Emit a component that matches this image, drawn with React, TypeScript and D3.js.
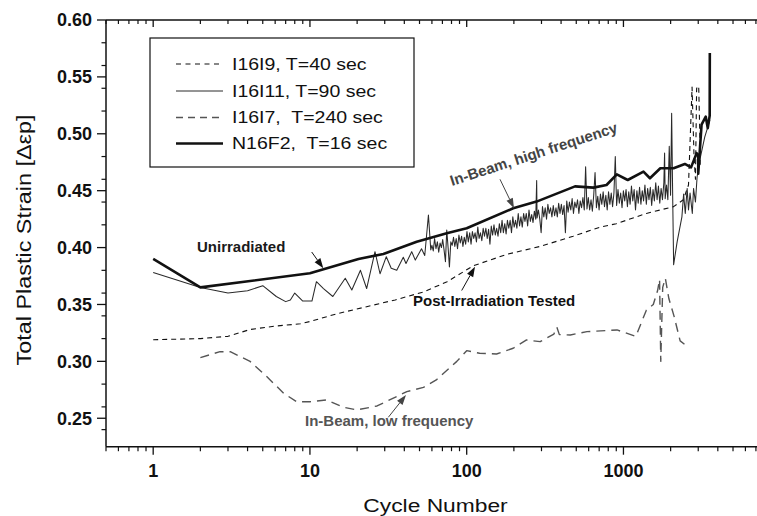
import React from 'react';
import * as d3 from 'd3';

type P = [number, number];

const W = 757;
const H = 516;
const FONT = "'Liberation Sans', Arial, Helvetica, sans-serif";

const xMajorTicks = [1, 10, 100, 1000];
const xMajorLabels = ['1', '10', '100', '1000'];
const yMajorTicks = [0.25, 0.3, 0.35, 0.4, 0.45, 0.5, 0.55, 0.6];
const yMajorLabels = ['0.25', '0.30', '0.35', '0.40', '0.45', '0.50', '0.55', '0.60'];

const legendLabels = ['I16I9, T=40 sec', 'I16I11, T=90 sec', 'I16I7,  T=240 sec', 'N16F2,  T=16 sec'];

// Post-irradiation tested, T=40 sec (short dashes)
const seriesI16I9: P[] = [
  [1, 0.319], [2, 0.320], [3, 0.322], [4.15, 0.328], [6, 0.331], [8.7, 0.333], [10, 0.335],
  [15, 0.342], [23, 0.348], [35, 0.354], [53, 0.361], [75, 0.370], [110, 0.384], [180, 0.394],
  [294, 0.401], [478, 0.410], [710, 0.418], [900, 0.421], [1400, 0.430], [2090, 0.436],
  [2410, 0.442], [2600, 0.455], [2740, 0.541], [2820, 0.480], [2880, 0.460], [2930, 0.540],
  [3020, 0.542], [3070, 0.500], [3090, 0.470],
];

// In-beam high frequency, T=90 sec (thin solid, noisy)
const seriesI16I11: P[] = [
  [1, 0.378], [2, 0.365], [3, 0.360], [4, 0.362], [5, 0.3665], [6.1, 0.357], [7, 0.3525],
  [7.5, 0.354], [8, 0.360], [9, 0.353], [10.3, 0.353], [11, 0.370], [12.2, 0.364], [14, 0.357],
  [16.8, 0.373], [18.5, 0.3627], [21, 0.380], [23, 0.364], [26, 0.3964], [28, 0.377],
  [30.7, 0.392], [33, 0.3818], [35.8, 0.380], [39.4, 0.3915], [41, 0.386], [44.6, 0.3964],
  [47, 0.389], [51.5, 0.399], [54, 0.393], [57, 0.4286], [59, 0.398],
  [60, 0.402], [61.2, 0.397], [62.4, 0.408], [63.7, 0.399], [65, 0.405], [66.3, 0.396],
  [67.6, 0.404], [69, 0.400], [70.3, 0.407], [71.7, 0.398], [73.2, 0.3876], [74.6, 0.4155],
  [76.1, 0.400], [77.6, 0.383], [79.2, 0.405], [80.8, 0.402], [82.4, 0.409], [84, 0.401],
  [85.7, 0.408], [87.4, 0.399], [89.2, 0.411], [91, 0.404], [92.8, 0.410], [94.6, 0.401],
  [96.5, 0.409], [98.5, 0.403], [100.4, 0.414], [102.4, 0.405], [104.5, 0.413], [106.6, 0.403],
  [108.7, 0.414], [110.9, 0.408], [113.1, 0.413], [115.4, 0.405], [117.7, 0.418], [120, 0.408],
  [122.4, 0.413], [124.9, 0.406], [127.4, 0.417], [129.9, 0.410], [132.5, 0.417], [135.2, 0.408],
  [137.9, 0.416], [140.7, 0.403], [143.5, 0.419], [146.3, 0.411], [149.3, 0.420], [152.2, 0.411],
  [155.3, 0.417], [158.4, 0.410], [161.6, 0.421], [164.8, 0.413], [168.1, 0.424], [171.4, 0.413],
  [174.9, 0.421], [178.4, 0.412], [181.9, 0.424], [185.6, 0.417], [189.3, 0.424], [193.1, 0.413],
  [196.9, 0.427], [200.9, 0.418], [204.9, 0.424], [209, 0.417], [213.2, 0.430], [217.4, 0.419],
  [221.8, 0.427], [226.2, 0.418], [230.7, 0.430], [235.3, 0.423], [240, 0.430], [244.8, 0.419],
  [249.7, 0.433], [254.7, 0.423], [259.8, 0.429], [265, 0.422], [270.3, 0.432], [275.7, 0.425],
  [279.5, 0.459], [281.2, 0.426], [286.9, 0.433], [292.6, 0.425], [298.5, 0.413], [304.4, 0.436],
  [310.5, 0.427], [316.7, 0.435], [323.1, 0.425], [329.5, 0.438], [336.1, 0.430], [342.8, 0.435],
  [349.7, 0.427], [356.7, 0.437], [363.8, 0.428], [371.1, 0.435], [378.5, 0.427], [386.1, 0.439],
  [393.8, 0.430], [401.7, 0.438], [409.7, 0.429], [417.9, 0.437], [426.3, 0.413], [434.8, 0.441],
  [443.5, 0.431], [452.4, 0.440], [461.4, 0.433], [470.6, 0.443], [480, 0.430], [489.6, 0.440],
  [499.4, 0.435], [509.4, 0.442], [519.6, 0.430], [530, 0.441], [540.6, 0.435], [551.4, 0.444],
  [562.4, 0.433], [573.7, 0.471], [585.2, 0.434], [596.9, 0.444], [608.8, 0.433], [621, 0.442],
  [633.4, 0.432], [646.1, 0.446], [659, 0.466], [672.2, 0.435], [685.6, 0.445], [699.3, 0.433],
  [713.3, 0.447], [727.6, 0.438], [742.2, 0.449], [757, 0.436], [772.1, 0.446], [787.6, 0.433],
  [803.3, 0.449], [819.4, 0.438], [835.8, 0.448], [852.5, 0.436], [869.6, 0.448], [887, 0.480],
  [904.7, 0.437], [922.8, 0.451], [941.3, 0.439], [960.1, 0.448], [979.3, 0.435], [998.9, 0.450],
  [1019, 0.441], [1039, 0.451], [1060, 0.436], [1081, 0.449], [1103, 0.438], [1125, 0.454],
  [1147, 0.441], [1170, 0.451], [1194, 0.433], [1218, 0.450], [1242, 0.439], [1267, 0.453],
  [1292, 0.438], [1318, 0.450], [1344, 0.441], [1371, 0.455], [1399, 0.438], [1427, 0.452],
  [1455, 0.442], [1484, 0.453], [1514, 0.437], [1544, 0.451], [1575, 0.441], [1607, 0.457],
  [1639, 0.442], [1672, 0.454], [1705, 0.439], [1739, 0.452], [1774, 0.442], [1810, 0.457],
  [1830, 0.483], [1846, 0.443], [1883, 0.455], [1920, 0.442], [1960, 0.489], [1998, 0.446],
  [2030, 0.518], [2060, 0.447], [2090, 0.385], [2200, 0.405], [2360, 0.427], [2420, 0.447],
  [2480, 0.430], [2550, 0.452], [2600, 0.433], [2660, 0.448], [2750, 0.430], [2800, 0.452],
  [2880, 0.440], [2950, 0.462], [3070, 0.477], [3300, 0.497], [3560, 0.512],
];

// In-beam low frequency, T=240 sec (long dashes, gray)
const seriesI16I7: P[] = [
  [2, 0.3033], [2.67, 0.3085], [3.1, 0.3085], [4.15, 0.300], [5.3, 0.2866], [6.8, 0.272],
  [8.2, 0.2646], [10, 0.2645], [12.8, 0.2661], [16.3, 0.2597], [19.9, 0.2573], [26.8, 0.2608],
  [41.5, 0.2734], [53, 0.2772], [64, 0.2837], [86.5, 0.300], [100, 0.3094], [121, 0.3071],
  [155, 0.3065], [198, 0.3115], [241, 0.3188], [294, 0.3173], [360, 0.3240], [376, 0.3300],
  [390, 0.3235], [458, 0.3232], [585, 0.3261], [910, 0.3276], [1200, 0.322], [1400, 0.345],
  [1550, 0.350], [1650, 0.362], [1700, 0.372], [1730, 0.300], [1780, 0.365], [1850, 0.373],
  [1950, 0.355], [2100, 0.340], [2300, 0.318], [2450, 0.315],
];

// Unirradiated, T=16 sec (thick solid)
const seriesN16F2: P[] = [
  [1, 0.390], [2, 0.365], [10, 0.3774], [20.4, 0.390], [29.4, 0.3944], [48, 0.4052],
  [74.6, 0.4126], [100, 0.417], [198, 0.4345], [279, 0.4404], [491, 0.4538], [643, 0.4527],
  [780, 0.455], [907, 0.4644], [1065, 0.4594], [1342, 0.4667], [1476, 0.4609], [1719, 0.4697],
  [2089, 0.4697], [2464, 0.4735], [2700, 0.4705], [2930, 0.483], [3000, 0.480], [3000, 0.465],
  [3150, 0.508], [3350, 0.515], [3450, 0.505], [3550, 0.516], [3556, 0.571],
];

const seriesList = [
  { data: seriesI16I9, stroke: '#111', width: 1.1, dash: '5,4', legendDash: '5,4.5', legendWidth: 1.1 },
  { data: seriesI16I11, stroke: '#2a2a2a', width: 1.05, dash: undefined, legendDash: undefined, legendWidth: 1 },
  { data: seriesI16I7, stroke: '#555', width: 1.4, dash: '9,6', legendDash: '7,5', legendWidth: 1.3 },
  { data: seriesN16F2, stroke: '#111', width: 2.6, dash: undefined, legendDash: undefined, legendWidth: 2.6 },
];

function Arrow({ x1, y1, x2, y2, color }: { x1: number; y1: number; x2: number; y2: number; color: string }) {
  const a = Math.atan2(y2 - y1, x2 - x1);
  const L = 10;
  const Wd = 3.5;
  const bx = x2 - L * Math.cos(a);
  const by = y2 - L * Math.sin(a);
  const px = -Math.sin(a) * Wd;
  const py = Math.cos(a) * Wd;
  return (
    <g>
      <line x1={x1} y1={y1} x2={bx} y2={by} stroke={color} strokeWidth={1} />
      <polygon points={`${x2},${y2} ${bx + px},${by + py} ${bx - px},${by - py}`} fill={color} />
    </g>
  );
}

export default function App() {
  const x = d3.scaleLog().domain([0.5, 7112]).range([106, 757]);
  const y = d3.scaleLinear().domain([0.225, 0.6]).range([446.7, 20]);
  const line = d3.line<P>().x((d) => x(d[0])).y((d) => y(d[1]));

  const isMajor = (t: number) => Math.abs(Math.log10(t) - Math.round(Math.log10(t))) < 1e-9;
  const xMinor = x.ticks().filter((t) => !isMajor(t));
  const yMinor = y.ticks(15).filter((t) => !yMajorTicks.some((m) => Math.abs(m - t) < 1e-9) && t > 0.23);

  const x0 = 106;
  const yTop = 20;
  const yBot = 446.7;

  const legendRows = [64, 91, 117.5, 143.5];

  return (
    <svg width={W} height={H} style={{ position: 'absolute', left: 0, top: 0, background: '#fff' }} fontFamily={FONT}>
      <rect x={0} y={0} width={W} height={H} fill="#fff" />
      {seriesList.map((s, i) => (
        <path
          key={i}
          d={line(s.data) || ''}
          fill="none"
          stroke={s.stroke}
          strokeWidth={s.width}
          strokeDasharray={s.dash}
          strokeLinejoin="round"
        />
      ))}

      <line x1={x0} y1={yBot} x2={W} y2={yBot} stroke="#111" strokeWidth={1.5} />
      <line x1={x0} y1={yTop} x2={W} y2={yTop} stroke="#111" strokeWidth={1.5} />
      <line x1={x0} y1={yTop} x2={x0} y2={yBot} stroke="#111" strokeWidth={1.5} />

      {xMajorTicks.map((t, i) => (
        <g key={'xm' + i}>
          <line x1={x(t)} y1={yBot} x2={x(t)} y2={yBot + 8} stroke="#111" strokeWidth={1.3} />
          <line x1={x(t)} y1={yTop} x2={x(t)} y2={yTop + 7} stroke="#111" strokeWidth={1.3} />
          <text x={x(t)} y={477} textAnchor="middle" fontSize={18} fontWeight="bold" fill="#111">
            {xMajorLabels[i]}
          </text>
        </g>
      ))}
      {xMinor.map((t, i) => (
        <g key={'xn' + i}>
          <line x1={x(t)} y1={yBot} x2={x(t)} y2={yBot + 4.5} stroke="#111" strokeWidth={1.2} />
          <line x1={x(t)} y1={yTop} x2={x(t)} y2={yTop + 4} stroke="#111" strokeWidth={1.2} />
        </g>
      ))}

      {yMajorTicks.map((t, i) => (
        <g key={'ym' + i}>
          <line x1={x0 - 9} y1={y(t)} x2={x0} y2={y(t)} stroke="#111" strokeWidth={1.3} />
          <text x={92} y={y(t) + 6.3} textAnchor="end" fontSize={18} fontWeight="bold" fill="#111">
            {yMajorLabels[i]}
          </text>
        </g>
      ))}
      {yMinor.map((t, i) => (
        <line key={'yn' + i} x1={x0 - 4.5} y1={y(t)} x2={x0} y2={y(t)} stroke="#111" strokeWidth={1.2} />
      ))}

      <text transform="translate(435.5,512) scale(1.2,1)" textAnchor="middle" fontSize={19} fill="#111">
        Cycle Number
      </text>
      <text transform="translate(31,240) rotate(-90) scale(1.17,1)" textAnchor="middle" fontSize={20} fill="#111">
        Total Plastic Strain [Δεp]
      </text>

      <rect x={150} y={38} width={264} height={129} fill="#fff" stroke="#111" strokeWidth={1.2} />
      {seriesList.map((s, i) => (
        <g key={'lg' + i}>
          <line
            x1={176}
            y1={legendRows[i]}
            x2={223}
            y2={legendRows[i]}
            stroke={s.stroke}
            strokeWidth={s.legendWidth}
            strokeDasharray={s.legendDash}
          />
          <text
            transform={`translate(232,${legendRows[i] + 5.7}) scale(1.22,1)`}
            fontSize={16}
            fill="#111"
            style={{ whiteSpace: 'pre' }}
          >
            {legendLabels[i]}
          </text>
        </g>
      ))}

      <text x={197} y={251.5} fontSize={15} fontWeight="bold" fill="#1a1a1a">Unirradiated</text>
      <Arrow x1={311.7} y1={252} x2={323.3} y2={268.3} color="#111" />

      <text x={413} y={305.7} fontSize={15} fontWeight="bold" fill="#111">Post-Irradiation Tested</text>
      <Arrow x1={461.7} y1={290.5} x2={475} y2={266.7} color="#111" />

      <text transform="translate(452,186) rotate(-18)" fontSize={15} fontWeight="bold" fill="#444">
        In-Beam, high frequency
      </text>
      <Arrow x1={500} y1={179.3} x2={514} y2={208.3} color="#444" />

      <text x={305} y={425.7} fontSize={15} fontWeight="bold" fill="#555">In-Beam, low frequency</text>
      <Arrow x1={388.3} y1={417.3} x2={406} y2={395} color="#444" />
    </svg>
  );
}
